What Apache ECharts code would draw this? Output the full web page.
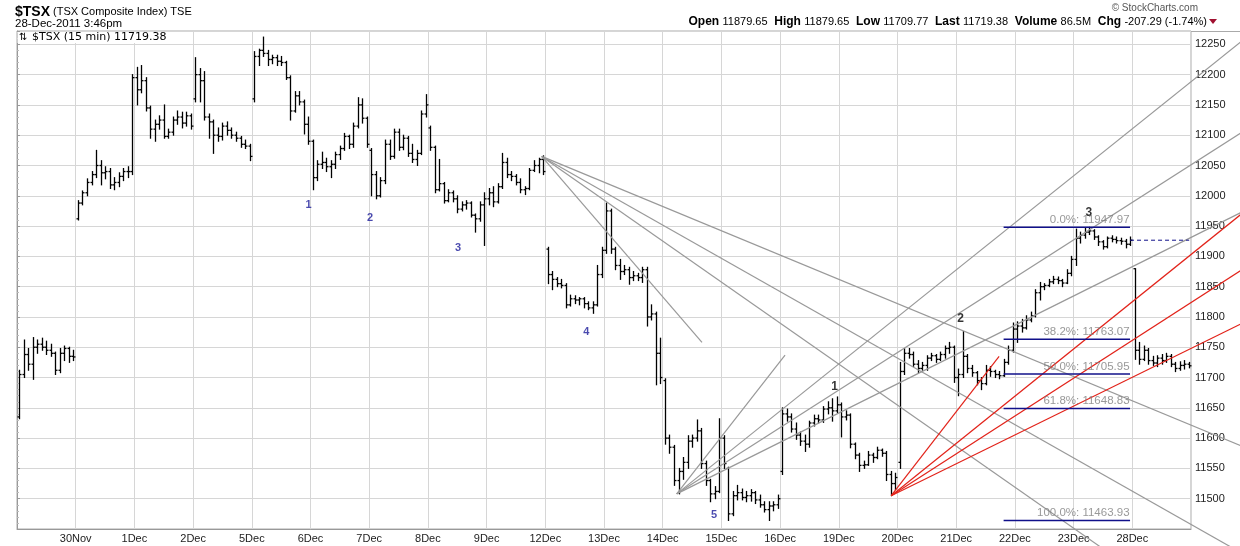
<!DOCTYPE html>
<html>
<head>
<meta charset="utf-8">
<script src="https://cdn.jsdelivr.net/npm/echarts@6.0.0/dist/echarts.min.js"></script>
<style>
  html, body { margin: 0; padding: 0; background: #fff; }
  #chart { width: 1240px; height: 546px; }
</style>
</head>
<body>
<div id="chart"></div>
<script>
// 30-minute bars, 13 per session, [open, high, low, close]
const BARS_PER_DAY = 13

const dayLabels = ['29Nov', '30Nov', '1Dec', '2Dec', '5Dec', '6Dec', '7Dec', '8Dec', '9Dec', '12Dec',
  '13Dec', '14Dec', '15Dec', '16Dec', '19Dec', '20Dec', '21Dec', '22Dec', '23Dec', '28Dec']

const d29Nov = [[11635,11712,11632,11705],[11705,11762,11700,11738],[11738,11748,11712,11722],[11722,11766,11697,11750],
  [11750,11762,11740,11755],[11755,11765,11745,11750],[11750,11760,11738,11745],[11745,11755,11735,11740],
  [11740,11742,11705,11712],[11712,11748,11708,11740],[11740,11752,11728,11748],[11748,11750,11725,11735],[11735,11745,11728,11734]]
const d30Nov = [[11962,11992,11960,11988],[11988,12008,11985,12005],[12005,12028,12000,12022],[12022,12040,12018,12035],
  [12035,12075,12030,12050],[12050,12058,12018,12038],[12038,12048,12028,12040],[12040,12045,12012,12018],
  [12018,12030,12010,12022],[12022,12038,12015,12032],[12032,12045,12025,12040],[12040,12048,12030,12040],[12040,12200,12035,12195]]
const d1Dec = [[12195,12212,12150,12175],[12175,12215,12170,12190],[12190,12195,12140,12145],[12145,12148,12095,12110],
  [12110,12125,12090,12118],[12118,12132,12110,12125],[12125,12150,12095,12098],[12098,12110,12095,12105],
  [12105,12130,12100,12125],[12125,12140,12118,12130],[12130,12138,12112,12120],[12120,12138,12115,12132],[12132,12135,12110,12115]]
const d2Dec = [[12160,12228,12155,12200],[12200,12210,12155,12190],[12190,12205,12125,12130],[12130,12135,12095,12122],
  [12122,12125,12070,12100],[12100,12112,12090,12098],[12098,12120,12092,12115],[12115,12122,12100,12108],
  [12108,12112,12095,12100],[12100,12105,12090,12095],[12095,12098,12080,12085],[12085,12092,12078,12082],[12082,12085,12058,12065]]
const d5Dec = [[12160,12238,12155,12230],[12230,12242,12215,12240],[12240,12262,12230,12235],[12235,12240,12215,12225],
  [12225,12232,12218,12228],[12228,12232,12215,12222],[12222,12230,12215,12220],[12220,12222,12192,12195],
  [12195,12198,12125,12140],[12140,12172,12138,12165],[12165,12172,12150,12155],[12155,12158,12102,12118],[12118,12130,12085,12090]]
const d6Dec = [[12090,12092,12010,12030],[12030,12058,12025,12052],[12052,12072,12045,12055],[12055,12062,12040,12048],
  [12048,12058,12030,12052],[12052,12072,12045,12068],[12068,12082,12060,12078],[12078,12103,12075,12098],
  [12098,12100,12078,12085],[12085,12120,12080,12115],[12115,12162,12112,12150],[12150,12160,12120,12128],[12128,12130,12080,12085]]
const d7Dec = [[12075,12078,12000,12035],[12035,12040,11995,12000],[12000,12030,11998,12025],[12025,12092,12020,12085],
  [12085,12092,12060,12065],[12065,12110,12062,12105],[12105,12110,12075,12080],[12080,12100,12076,12095],
  [12095,12098,12065,12070],[12070,12085,12055,12060],[12060,12075,12050,12070],[12070,12140,12068,12135],[12135,12167,12130,12150]]
const d8Dec = [[12112,12115,12075,12080],[12080,12082,12005,12010],[12010,12060,12008,12020],[12020,12022,11988,11992],
  [11992,12010,11990,12005],[12005,12008,11990,11995],[11995,12000,11972,11978],[11978,11990,11975,11985],
  [11985,11992,11978,11988],[11988,11990,11965,11968],[11968,11970,11940,11962],[11962,11990,11958,11985],[11985,12005,11918,11995]]
const d9Dec = [[11995,12012,11985,12005],[12005,12015,11982,11990],[11990,12020,11988,12015],[12015,12070,12012,12055],
  [12055,12062,12030,12035],[12035,12040,12025,12032],[12032,12035,12018,12022],[12022,12028,12005,12010],
  [12010,12015,12002,12012],[12012,12045,12010,12042],[12042,12058,12040,12050],[12050,12062,12038,12060],[12060,12066,12035,12040]]
const d12Dec = [[11912,11915,11855,11870],[11870,11875,11845,11862],[11862,11865,11850,11855],[11855,11862,11848,11852],
  [11852,11855,11815,11820],[11820,11836,11818,11830],[11830,11835,11822,11828],[11828,11832,11820,11830],
  [11830,11832,11815,11822],[11822,11825,11812,11815],[11815,11825,11806,11820],[11820,11885,11818,11870],[11870,11915,11865,11910]]
const d13Dec = [[11910,11988,11905,11975],[11975,11978,11905,11912],[11912,11915,11878,11885],[11885,11895,11862,11875],
  [11875,11885,11870,11878],[11878,11882,11854,11865],[11865,11875,11860,11868],[11868,11872,11860,11865],
  [11865,11882,11857,11878],[11878,11882,11785,11800],[11800,11820,11795,11805],[11805,11808,11688,11740],[11740,11765,11690,11700]]
const d14Dec = [[11695,11698,11590,11600],[11600,11605,11575,11585],[11585,11588,11522,11530],[11530,11550,11508,11545],
  [11545,11568,11532,11560],[11560,11604,11550,11595],[11595,11605,11585,11600],[11600,11630,11595,11612],
  [11612,11616,11550,11558],[11558,11562,11522,11530],[11530,11532,11495,11508],[11508,11520,11500,11512],[11512,11632,11510,11600]]
const d15Dec = [[11600,11604,11550,11558],[11550,11552,11464,11475],[11475,11512,11472,11505],[11505,11522,11498,11510],
  [11510,11516,11498,11502],[11502,11512,11495,11505],[11505,11515,11496,11510],[11510,11512,11492,11498],
  [11498,11506,11486,11490],[11490,11495,11478,11482],[11482,11495,11464,11488],[11488,11495,11480,11490],[11490,11506,11484,11500]]
const d16Dec = [[11545,11650,11540,11640],[11640,11648,11628,11635],[11635,11640,11610,11615],[11615,11625,11598,11605],
  [11605,11610,11588,11595],[11595,11605,11578,11590],[11590,11628,11585,11625],[11625,11638,11620,11632],
  [11632,11638,11625,11630],[11630,11652,11626,11648],[11648,11660,11640,11650],[11650,11665,11628,11645],[11645,11668,11642,11655]]
const d19Dec = [[11655,11658,11602,11635],[11635,11645,11630,11638],[11638,11640,11584,11590],[11590,11592,11566,11572],
  [11572,11575,11545,11555],[11555,11562,11550,11556],[11556,11578,11555,11572],[11572,11575,11560,11568],
  [11568,11585,11566,11580],[11580,11582,11570,11575],[11575,11578,11530,11540],[11540,11545,11505,11525],[11525,11542,11515,11535]]
const d20Dec = [[11560,11725,11550,11710],[11710,11748,11705,11740],[11740,11748,11732,11738],[11738,11742,11718,11722],
  [11722,11728,11708,11715],[11715,11725,11712,11720],[11720,11736,11712,11732],[11732,11740,11728,11736],
  [11736,11738,11725,11730],[11730,11742,11728,11738],[11738,11752,11732,11748],[11748,11758,11740,11750],[11750,11752,11692,11700]]
const d21Dec = [[11700,11714,11670,11705],[11705,11776,11700,11735],[11735,11738,11708,11715],[11715,11720,11702,11708],
  [11708,11710,11688,11695],[11695,11700,11680,11690],[11690,11720,11688,11712],[11712,11718,11702,11710],
  [11710,11712,11700,11705],[11705,11710,11698,11703],[11703,11730,11702,11725],[11725,11752,11722,11745],[11745,11790,11742,11780]]
const d22Dec = [[11780,11792,11758,11785],[11785,11796,11775,11782],[11782,11802,11780,11795],[11795,11808,11792,11802],
  [11802,11845,11800,11840],[11840,11857,11828,11850],[11850,11855,11845,11852],[11852,11862,11850,11858],
  [11858,11867,11855,11862],[11862,11866,11855,11860],[11860,11862,11850,11856],[11856,11878,11855,11872],[11872,11900,11868,11895]]
const d23Dec = [[11895,11945,11885,11930],[11930,11940,11922,11935],[11935,11946,11930,11940],[11940,11947.97,11936,11942],
  [11942,11944,11928,11932],[11932,11934,11918,11924],[11924,11926,11912,11916],[11916,11932,11914,11930],
  [11930,11934,11924,11928],[11928,11932,11922,11926],[11926,11930,11920,11925],[11925,11928,11914,11920],[11920,11932,11918,11926.67]]
const d28Dec = [[11879.65,11879.65,11730,11745],[11745,11758,11722,11730],[11730,11752,11728,11745],[11745,11748,11722,11728],
  [11728,11735,11720,11724],[11724,11736,11718,11732],[11732,11738,11722,11728],[11728,11740,11725,11735],
  [11735,11738,11718,11722],[11722,11725,11709.77,11715],[11715,11726,11712,11720],[11720,11728,11714,11722],[11722,11725,11716,11719.38]]

const dayBars = [d29Nov, d30Nov, d1Dec, d2Dec, d5Dec, d6Dec, d7Dec, d8Dec, d9Dec, d12Dec,
  d13Dec, d14Dec, d15Dec, d16Dec, d19Dec, d20Dec, d21Dec, d22Dec, d23Dec, d28Dec]

// trend lines: [x1, price1, x2, price2], x in bars from 29Nov open
const grayFanDec9 = [[116.2,12065,151.7,11758],[116.2,12065,271.5,11586],[116.2,12065,271.5,11409],[116.2,12065,271.5,11256]]
const grayFanDec14 = [[146.1,11508,170.1,11737],[146.1,11508,271.5,12257],[146.1,11508,271.5,12106],[146.1,11508,271.5,11974]]
const redFanDec19 = [[193.6,11505,217.5,11735],[193.6,11505,271.5,11972],[193.6,11505,271.5,11879],[193.6,11505,271.5,11790]]

// fibonacci retracement 11463.93 -> 11947.97
const fibNames = ['0.0%', '38.2%', '50.0%', '61.8%', '100.0%']
const fibPrices = [11947.97, 11763.07, 11705.95, 11648.83, 11463.93]
const fibFrom = 218.5
const fibTo = 246.5
const prevClose = 11926.67
const prevCloseTo = 259.6

// wave counts
const waveText = ['1', '2', '3', '4', '5', '1', '2', '3']
const waveX = [64.7, 78.3, 97.8, 126.2, 154.5, 181.2, 209.1, 237.5]
const wavePrice = [11984, 11962, 11913, 11775, 11472, 11684, 11796, 11971]
const waveBlue = [true, true, true, true, true, false, false, false]

const headerStats = [['Open', '11879.65'], ['High', '11879.65'], ['Low', '11709.77'], ['Last', '11719.38'],
  ['Volume', '86.5M'], ['Chg', '-207.29 (-1.74%)']]

const FONT = '"Liberation Sans", Arial, sans-serif'

const barData = []
dayBars.forEach((day, d) => {
  day.forEach((b, i) => {
    barData.push([d * BARS_PER_DAY + i + 0.5, b[0], b[1], b[2], b[3]])
  })
})

const renderBar = (params, api) => {
  const x = api.value(0)
  const pO = api.coord([x, api.value(1)])
  const pH = api.coord([x, api.value(2)])
  const pL = api.coord([x, api.value(3)])
  const pC = api.coord([x, api.value(4)])
  const cx = Math.round(pO[0]) + 0.5
  const style = { stroke: '#000', lineWidth: 1.3 }
  return {
    type: 'group',
    children: [
      { type: 'line', shape: { x1: cx, y1: pH[1] - 0.5, x2: cx, y2: pL[1] + 0.5 }, style },
      { type: 'line', shape: { x1: cx - 2, y1: pO[1], x2: cx, y2: pO[1] }, style },
      { type: 'line', shape: { x1: cx, y1: pC[1], x2: cx + 2, y2: pC[1] }, style }
    ]
  }
}

// lines drawn through the axes but not cut at the plot edge
const renderSegment = (params, api) => {
  const p1 = api.coord([api.value(0), api.value(1)])
  const p2 = api.coord([api.value(2), api.value(3)])
  return {
    type: 'line',
    shape: { x1: p1[0], y1: p1[1], x2: p2[0], y2: p2[1] },
    style: { stroke: api.visual('color'), lineWidth: 1.2 }
  }
}

const trendSeries = (lines, color) => ({
  type: 'custom',
  renderItem: renderSegment,
  encode: { x: [0, 2], y: [1, 3] },
  data: lines,
  clip: false,
  silent: true,
  z: 4,
  itemStyle: { color: color }
})

const fibSeries = fibPrices.map(p => ({
  type: 'line',
  data: [[fibFrom, p], [fibTo, p]],
  showSymbol: false,
  silent: true,
  z: 5,
  lineStyle: { color: '#10108a', width: 1.5 }
}))

const chart = echarts.init(document.getElementById('chart'))

const option = {
  animation: false,
  backgroundColor: '#fff',
  grid: { left: 17, right: 49, top: 31, bottom: 17, show: true, borderColor: '#aaa', borderWidth: 1 },
  xAxis: {
    type: 'value',
    min: 0,
    max: dayLabels.length * BARS_PER_DAY,
    interval: BARS_PER_DAY,
    axisLine: { show: true, lineStyle: { color: '#999' } },
    axisTick: { show: false },
    axisLabel: {
      formatter: v => dayLabels[Math.round(v / BARS_PER_DAY)] || '',
      showMinLabel: false,
      showMaxLabel: false,
      color: '#222',
      fontSize: 11,
      fontFamily: FONT,
      margin: 4
    },
    splitLine: { show: true, lineStyle: { color: '#d6d6d6' } }
  },
  yAxis: {
    type: 'value',
    position: 'right',
    min: 11450,
    max: 12272,
    interval: 50,
    axisLine: { show: true, lineStyle: { color: '#999' } },
    axisTick: { show: true, length: 3, lineStyle: { color: '#999' } },
    minorTick: { show: true, splitNumber: 5, length: 2, lineStyle: { color: '#bbb' } },
    axisLabel: {
      formatter: v => String(v),
      showMinLabel: false,
      showMaxLabel: false,
      color: '#222',
      fontSize: 11,
      fontFamily: FONT,
      margin: 4,
      padding: [5, 0, 0, 0]
    },
    splitLine: { show: true, lineStyle: { color: '#d6d6d6' } }
  },
  graphic: [
    { type: 'text', x: 15, y: 12, z: 10, style: { text: '$TSX', font: 'bold 14px ' + FONT, fill: '#000', verticalAlign: 'middle' } },
    { type: 'text', x: 53, y: 12, z: 10, style: { text: '(TSX Composite Index) TSE', font: '11px ' + FONT, fill: '#000', verticalAlign: 'middle' } },
    { type: 'text', x: 15, y: 24, z: 10, style: { text: '28-Dec-2011 3:46pm', font: '11.5px ' + FONT, fill: '#000', verticalAlign: 'middle' } },
    { type: 'text', x: 1198, y: 8, z: 10, style: { text: '\u00a9 StockCharts.com', font: '10px ' + FONT, fill: '#555', align: 'right', verticalAlign: 'middle' } },
    {
      type: 'text', x: 1207, y: 22, z: 10,
      style: {
        text: headerStats.map(s => '{b|' + s[0] + '} {n|' + s[1] + '}').join('  '),
        align: 'right', verticalAlign: 'middle',
        rich: {
          b: { font: 'bold 12px ' + FONT, fill: '#000' },
          n: { font: '11px ' + FONT, fill: '#000' }
        }
      }
    },
    { type: 'polygon', z: 10, shape: { points: [[1209, 19], [1217, 19], [1213, 24]] }, style: { fill: '#a01030' } },
    { type: 'line', z: 10, shape: { x1: 1191, y1: 31.5, x2: 1240, y2: 31.5 }, style: { stroke: '#aaa', lineWidth: 1 } },
    { type: 'rect', z: 10, shape: { x: 17.5, y: 32, width: 158, height: 11 }, style: { fill: '#fff' } },
    { type: 'text', x: 19, y: 37.5, z: 11, style: { text: '\u21c5', font: '10px "DejaVu Sans"', fill: '#000', verticalAlign: 'middle' } },
    { type: 'text', x: 32, y: 37.5, z: 11, style: { text: '$TSX (15 min) 11719.38', font: '11px "DejaVu Sans"', fill: '#000', verticalAlign: 'middle' } }
  ],
  series: [
    {
      type: 'custom',
      renderItem: renderBar,
      encode: { x: 0, y: [1, 2, 3, 4] },
      data: barData,
      silent: true,
      z: 2
    },
    trendSeries(grayFanDec9, '#999'),
    trendSeries(grayFanDec14, '#999'),
    trendSeries(redFanDec19, '#e2231a'),
    ...fibSeries,
    {
      type: 'line',
      data: [[fibTo, prevClose], [prevCloseTo, prevClose]],
      showSymbol: false,
      silent: true,
      z: 5,
      lineStyle: { color: '#10108a', width: 1, type: [4, 3] }
    },
    {
      type: 'scatter',
      silent: true,
      z: 6,
      symbolSize: 1,
      itemStyle: { color: 'rgba(0,0,0,0)' },
      data: fibPrices.map((p, i) => ({ value: [fibTo, p], name: fibNames[i] + ': ' + p.toFixed(2) })),
      label: {
        show: true,
        position: [0, -1],
        align: 'right',
        verticalAlign: 'bottom',
        formatter: p => p.name,
        color: '#808080',
        fontSize: 11.5,
        fontFamily: FONT
      }
    },
    {
      type: 'scatter',
      silent: true,
      z: 6,
      symbolSize: 1,
      itemStyle: { color: 'rgba(0,0,0,0)' },
      data: waveText.map((t, i) => ({
        value: [waveX[i], wavePrice[i]],
        name: t,
        label: waveBlue[i]
          ? { color: '#1b1b9a', fontSize: 11 }
          : { color: '#000', fontSize: 12 }
      })),
      label: {
        show: true,
        position: [0, 0],
        align: 'center',
        verticalAlign: 'middle',
        formatter: p => p.name,
        fontWeight: 'bold',
        fontFamily: FONT
      }
    }
  ]
}

chart.setOption(option)
</script>
</body>
</html>
